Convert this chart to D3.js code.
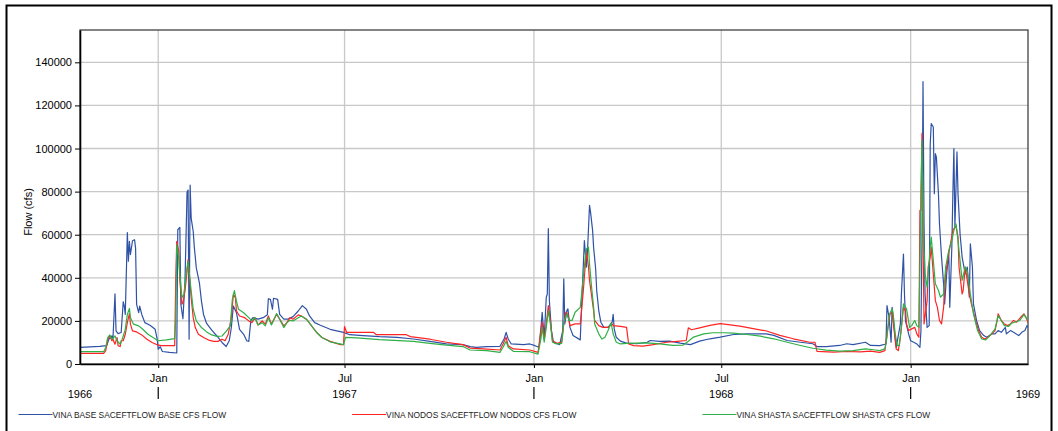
<!DOCTYPE html>
<html>
<head>
<meta charset="utf-8">
<script src="https://cdn.jsdelivr.net/npm/d3@7"></script>
<style>
  body { margin: 0; background: #fff; }
  svg { font-family: "Liberation Sans", Arial, sans-serif; }
</style>
</head>
<body>
<div id="chart"></div>
<script>
// series names and colours, in drawing order
const seriesNames = [
  "VINA BASE SACEFTFLOW BASE CFS FLOW",
  "VINA NODOS SACEFTFLOW NODOS CFS FLOW",
  "VINA SHASTA SACEFTFLOW SHASTA CFS FLOW"
]
const seriesColors = ["#2f52a6", "#ff2424", "#2fb047"]

const yTicks = [0, 20000, 40000, 60000, 80000, 100000, 120000, 140000]
const yearLabels = [1966, 1967, 1968, 1969]
const dateRange = ["1966-10-17", "1969-04-25"]

// flow values (cfs)
const baseFlow = [
  ["1966-10-17",7700],["1966-11-05",8150],["1966-11-12",8500],["1966-11-14",11500],["1966-11-17",13000],
  ["1966-11-18",11500],["1966-11-20",32600],["1966-11-21",15400],["1966-11-23",14100],["1966-11-26",14600],
  ["1966-11-28",28900],["1966-11-29",26900],["1966-11-30",23000],["1966-12-02",61000],["1966-12-03",47700],
  ["1966-12-04",56900],["1966-12-05",50800],["1966-12-07",57200],["1966-12-09",57700],["1966-12-10",53800],
  ["1966-12-11",27700],["1966-12-13",23800],["1966-12-14",26900],["1966-12-16",23000],["1966-12-19",19200],
  ["1966-12-24",18000],["1966-12-29",16100],["1966-12-31",11500],["1967-01-01",6900],["1967-01-03",8000],
  ["1967-01-05",5800],["1967-01-12",5400],["1967-01-19",5100],["1967-01-20",62300],["1967-01-22",63400],
  ["1967-01-23",27700],["1967-01-25",21000],["1967-01-27",38500],["1967-01-29",79700],["1967-01-30",80700],
  ["1967-01-31",11500],["1967-02-01",83000],["1967-02-02",67700],["1967-02-04",61500],["1967-02-05",54600],
  ["1967-02-07",44600],["1967-02-10",37700],["1967-02-12",29200],["1967-02-14",23000],["1967-02-17",18800],
  ["1967-02-22",15700],["1967-02-27",13000],["1967-03-04",10000],["1967-03-08",8100],["1967-03-11",10800],
  ["1967-03-13",16900],["1967-03-15",26900],["1967-03-18",23800],["1967-03-21",16100],["1967-03-25",13800],
  ["1967-03-28",10800],["1967-03-30",10500],["1967-04-01",20300],["1967-04-03",21500],["1967-04-08",20800],
  ["1967-04-13",21500],["1967-04-17",22800],["1967-04-18",30300],["1967-04-20",30000],["1967-04-22",25400],
  ["1967-04-23",30500],["1967-04-27",30000],["1967-04-29",23000],["1967-05-03",20800],["1967-05-07",20800],
  ["1967-05-12",22000],["1967-05-17",24600],["1967-05-21",27100],["1967-05-25",25400],["1967-05-28",22300],
  ["1967-06-02",19200],["1967-06-07",18100],["1967-06-17",16100],["1967-06-30",14700],["1967-07-06",13600],
  ["1967-07-19",13200],["1967-08-04",12700],["1967-08-21",12400],["1967-09-06",11600],["1967-09-22",10500],
  ["1967-10-08",9300],["1967-10-24",9000],["1967-10-31",8100],["1967-11-06",7750],["1967-11-16",8100],
  ["1967-11-29",8200],["1967-12-03",11600],["1967-12-05",14700],["1967-12-07",11600],["1967-12-10",9300],
  ["1967-12-22",9000],["1967-12-28",9300],["1968-01-02",8500],["1968-01-06",7750],["1968-01-08",17800],
  ["1968-01-09",24000],["1968-01-11",12400],["1968-01-13",31000],["1968-01-14",32500],["1968-01-15",62800],
  ["1968-01-16",29500],["1968-01-18",15500],["1968-01-20",10100],["1968-01-26",9000],["1968-01-29",15500],
  ["1968-01-30",39500],["1968-01-31",18600],["1968-02-02",24800],["1968-02-03",25600],["1968-02-05",17000],
  ["1968-02-08",13200],["1968-02-15",11200],["1968-02-16",23300],["1968-02-19",57300],["1968-02-21",45000],
  ["1968-02-22",52000],["1968-02-24",73600],["1968-02-25",70500],["1968-02-27",62000],["1968-02-28",54000],
  ["1968-03-01",44000],["1968-03-02",34000],["1968-03-04",24800],["1968-03-06",19400],["1968-03-09",17000],
  ["1968-03-13",17000],["1968-03-17",19400],["1968-03-18",23000],["1968-03-19",16300],["1968-03-21",12400],
  ["1968-03-25",10600],["1968-03-31",9700],["1968-04-10",9400],["1968-04-20",10100],["1968-04-23",10900],
  ["1968-05-02",10500],["1968-05-12",10600],["1968-05-22",9700],["1968-06-01",9000],["1968-06-10",10600],
  ["1968-06-20",11700],["1968-06-30",12500],["1968-07-13",13700],["1968-07-26",14000],["1968-08-08",14000],
  ["1968-08-14",14000],["1968-08-21",13300],["1968-09-03",10900],["1968-09-16",10100],["1968-09-28",9400],
  ["1968-10-02",8100],["1968-10-11",8100],["1968-10-24",8600],["1968-10-31",9400],["1968-11-06",9000],
  ["1968-11-18",10100],["1968-11-23",8600],["1968-12-02",8500],["1968-12-08",9300],["1968-12-09",27100],
  ["1968-12-11",21700],["1968-12-13",10100],["1968-12-14",26300],["1968-12-15",21700],["1968-12-17",11600],
  ["1968-12-18",7750],["1968-12-22",18600],["1968-12-23",32500],["1968-12-25",51000],["1968-12-26",32500],
  ["1968-12-27",20000],["1968-12-30",14000],["1969-01-01",10800],["1969-01-04",10100],["1969-01-07",9300],
  ["1969-01-10",7750],["1969-01-11",15500],["1969-01-12",57000],["1969-01-13",131000],["1969-01-14",65000],
  ["1969-01-15",32500],["1969-01-17",17000],["1969-01-19",17800],["1969-01-20",102000],["1969-01-21",111600],
  ["1969-01-23",110000],["1969-01-24",79000],["1969-01-25",97600],["1969-01-26",96000],["1969-01-28",79000],
  ["1969-01-29",65000],["1969-01-31",49600],["1969-02-02",37200],["1969-02-03",27900],["1969-02-05",41800],
  ["1969-02-07",51900],["1969-02-08",26300],["1969-02-10",54200],["1969-02-11",79000],["1969-02-12",100000],
  ["1969-02-13",63500],["1969-02-15",98400],["1969-02-16",79000],["1969-02-18",60400],["1969-02-20",49600],
  ["1969-02-23",41800],["1969-02-25",45000],["1969-02-27",31000],["1969-02-28",55800],["1969-03-02",45000],
  ["1969-03-03",27900],["1969-03-06",20200],["1969-03-09",15500],["1969-03-13",13200],["1969-03-16",12400],
  ["1969-03-21",14000],["1969-03-24",14000],["1969-03-27",15500],["1969-03-30",14700],["1969-04-03",17000],
  ["1969-04-04",14000],["1969-04-08",15500],["1969-04-11",14700],["1969-04-16",13200],["1969-04-19",14700],
  ["1969-04-22",15500],["1969-04-24",17800],["1969-04-25",17000]
]

const nodosFlow = [
  ["1966-10-17",4900],["1966-11-09",4900],["1966-11-11",6200],["1966-11-13",11500],["1966-11-15",13000],
  ["1966-11-17",10800],["1966-11-18",11500],["1966-11-20",9200],["1966-11-22",12300],["1966-11-23",8500],
  ["1966-11-25",8100],["1966-11-26",10800],["1966-11-28",10800],["1966-11-30",13800],["1966-12-02",19200],
  ["1966-12-04",23400],["1966-12-05",18500],["1966-12-07",15400],["1966-12-11",14900],["1966-12-16",13500],
  ["1966-12-21",11500],["1966-12-26",10000],["1966-12-31",8900],["1967-01-04",8500],["1967-01-17",8500],
  ["1967-01-18",39200],["1967-01-19",56900],["1967-01-21",52000],["1967-01-22",38500],["1967-01-24",27700],
  ["1967-01-25",28500],["1967-01-27",33800],["1967-01-29",43000],["1967-01-30",48400],["1967-01-31",43000],
  ["1967-02-02",30800],["1967-02-04",21500],["1967-02-06",16900],["1967-02-09",13800],["1967-02-14",12300],
  ["1967-02-19",11100],["1967-02-24",10500],["1967-02-28",10500],["1967-03-04",11500],["1967-03-07",10800],
  ["1967-03-10",13800],["1967-03-13",21500],["1967-03-15",32300],["1967-03-17",30800],["1967-03-18",24600],
  ["1967-03-21",22300],["1967-03-26",21500],["1967-03-30",20000],["1967-04-02",19200],["1967-04-05",21500],
  ["1967-04-08",18100],["1967-04-12",20000],["1967-04-15",18500],["1967-04-18",22300],["1967-04-21",18500],
  ["1967-04-26",23000],["1967-04-29",20800],["1967-05-03",17700],["1967-05-06",19200],["1967-05-09",21500],
  ["1967-05-12",20800],["1967-05-17",22800],["1967-05-20",22300],["1967-05-25",20800],["1967-05-30",17700],
  ["1967-06-04",14600],["1967-06-09",12300],["1967-06-17",10500],["1967-06-27",9000],["1967-06-30",9000],
  ["1967-07-01",17400],["1967-07-03",14700],["1967-07-29",14700],["1967-08-01",13600],["1967-08-30",13600],
  ["1967-09-03",12700],["1967-09-22",11500],["1967-10-08",10100],["1967-10-24",9000],["1967-10-31",7400],
  ["1967-11-13",7000],["1967-11-29",6500],["1967-12-02",9300],["1967-12-05",12400],["1967-12-07",8500],
  ["1967-12-12",7000],["1967-12-28",6500],["1968-01-05",5400],["1968-01-08",16300],["1968-01-09",19400],
  ["1968-01-11",11600],["1968-01-13",18600],["1968-01-15",27100],["1968-01-17",20200],["1968-01-19",10900],
  ["1968-01-23",9600],["1968-01-28",10100],["1968-01-30",18600],["1968-02-01",24000],["1968-02-03",23000],
  ["1968-02-05",17800],["1968-02-10",18600],["1968-02-15",18600],["1968-02-16",23300],["1968-02-18",34100],
  ["1968-02-20",46500],["1968-02-21",52700],["1968-02-23",45000],["1968-02-24",38800],["1968-02-26",31800],
  ["1968-02-28",24800],["1968-02-29",20200],["1968-03-04",17800],["1968-03-08",17000],["1968-03-13",17000],
  ["1968-03-17",18600],["1968-03-18",17800],["1968-03-25",17500],["1968-03-31",17000],["1968-04-02",9300],
  ["1968-04-07",8500],["1968-04-16",8300],["1968-04-26",9000],["1968-05-09",10100],["1968-05-19",10500],
  ["1968-05-28",10900],["1968-05-30",16800],["1968-06-02",15900],["1968-06-10",16800],["1968-06-20",17900],
  ["1968-06-30",18700],["1968-07-06",18400],["1968-07-19",17600],["1968-08-01",16400],["1968-08-14",15300],
  ["1968-08-27",13300],["1968-09-09",11700],["1968-09-25",10100],["1968-09-30",10100],["1968-10-02",5900],
  ["1968-10-18",5500],["1968-10-31",5800],["1968-11-13",5600],["1968-11-23",6000],["1968-12-02",5400],
  ["1968-12-07",6200],["1968-12-09",14000],["1968-12-12",23300],["1968-12-14",24000],["1968-12-16",15500],
  ["1968-12-18",7000],["1968-12-20",6200],["1968-12-22",12400],["1968-12-25",26300],["1968-12-27",24800],
  ["1968-12-28",18600],["1968-12-30",15500],["1969-01-02",16300],["1969-01-05",17000],["1969-01-07",14000],
  ["1969-01-09",12400],["1969-01-10",71300],["1969-01-11",71300],["1969-01-12",107000],["1969-01-13",60000],
  ["1969-01-14",18600],["1969-01-17",29400],["1969-01-18",45000],["1969-01-20",49600],["1969-01-21",54200],
  ["1969-01-23",41800],["1969-01-25",29400],["1969-01-27",26300],["1969-01-29",20200],["1969-01-31",18600],
  ["1969-02-02",26300],["1969-02-04",41800],["1969-02-07",51200],["1969-02-09",56600],["1969-02-11",62000],
  ["1969-02-14",64300],["1969-02-16",58900],["1969-02-17",45000],["1969-02-20",32500],["1969-02-21",34100],
  ["1969-02-23",45000],["1969-02-25",38800],["1969-02-27",32500],["1969-03-01",27900],["1969-03-05",20200],
  ["1969-03-08",15500],["1969-03-11",12400],["1969-03-14",11600],["1969-03-17",12400],["1969-03-21",14000],
  ["1969-03-24",15500],["1969-03-26",20200],["1969-03-27",23300],["1969-03-30",20200],["1969-04-02",18600],
  ["1969-04-05",17800],["1969-04-08",18600],["1969-04-11",20200],["1969-04-14",19400],["1969-04-18",21700],
  ["1969-04-21",23300],["1969-04-23",21700],["1969-04-25",19400]
]

const shastaFlow = [
  ["1966-10-17",5700],["1966-11-09",5700],["1966-11-11",7700],["1966-11-13",12300],["1966-11-15",13500],
  ["1966-11-17",11500],["1966-11-20",13000],["1966-11-22",10800],["1966-11-25",9200],["1966-11-27",11500],
  ["1966-11-30",16100],["1966-12-02",23000],["1966-12-04",25800],["1966-12-05",21500],["1966-12-08",18500],
  ["1966-12-13",17700],["1966-12-17",16100],["1966-12-22",13800],["1966-12-27",12300],["1967-01-01",10800],
  ["1967-01-09",11200],["1967-01-17",11800],["1967-01-18",20000],["1967-01-19",55400],["1967-01-21",49200],
  ["1967-01-22",41500],["1967-01-24",30800],["1967-01-26",32300],["1967-01-28",41500],["1967-01-30",47700],
  ["1967-01-31",43000],["1967-02-02",33800],["1967-02-04",25400],["1967-02-07",20000],["1967-02-12",16900],
  ["1967-02-17",14900],["1967-02-22",13500],["1967-02-27",12800],["1967-03-04",13000],["1967-03-08",15100],
  ["1967-03-12",17700],["1967-03-14",30000],["1967-03-16",34100],["1967-03-18",29200],["1967-03-20",25400],
  ["1967-03-25",23800],["1967-03-30",21500],["1967-04-02",20000],["1967-04-05",21500],["1967-04-08",18100],
  ["1967-04-12",19200],["1967-04-15",17700],["1967-04-18",21500],["1967-04-21",18100],["1967-04-26",23400],
  ["1967-04-29",20800],["1967-05-03",16900],["1967-05-06",19200],["1967-05-09",20300],["1967-05-12",20000],
  ["1967-05-17",21500],["1967-05-20",22300],["1967-05-25",20800],["1967-05-30",17700],["1967-06-04",14600],
  ["1967-06-09",12300],["1967-06-17",10300],["1967-06-30",9000],["1967-07-02",12400],["1967-07-13",12100],
  ["1967-08-04",11300],["1967-09-06",10500],["1967-09-22",9600],["1967-10-08",8800],["1967-10-24",8100],
  ["1967-10-31",6500],["1967-11-16",6200],["1967-11-29",5400],["1967-12-02",7750],["1967-12-05",10500],
  ["1967-12-07",7750],["1967-12-12",5900],["1967-12-28",5700],["1968-01-05",4600],["1968-01-08",12400],
  ["1968-01-09",17000],["1968-01-11",10100],["1968-01-13",17000],["1968-01-15",24800],["1968-01-17",18600],
  ["1968-01-19",10100],["1968-01-23",9300],["1968-01-28",9600],["1968-01-30",19400],["1968-02-02",23300],
  ["1968-02-04",20200],["1968-02-07",20200],["1968-02-10",24000],["1968-02-15",26300],["1968-02-16",31000],
  ["1968-02-18",40300],["1968-02-20",49600],["1968-02-21",53500],["1968-02-23",54200],["1968-02-24",46500],
  ["1968-02-26",35700],["1968-02-28",26300],["1968-02-29",18600],["1968-03-04",14000],["1968-03-07",11600],
  ["1968-03-10",12400],["1968-03-13",15500],["1968-03-16",19000],["1968-03-18",14000],["1968-03-21",10100],
  ["1968-03-25",9300],["1968-03-31",9600],["1968-04-10",9700],["1968-04-20",9800],["1968-05-02",9300],
  ["1968-05-15",8600],["1968-05-25",8800],["1968-05-30",10600],["1968-06-04",12500],["1968-06-14",14000],
  ["1968-06-23",14500],["1968-07-03",14500],["1968-07-13",14300],["1968-07-26",13700],["1968-08-08",12900],
  ["1968-08-21",11700],["1968-09-03",10100],["1968-09-16",8600],["1968-09-28",7300],["1968-10-11",6400],
  ["1968-10-24",6000],["1968-11-06",6200],["1968-11-18",7000],["1968-11-26",6600],["1968-12-02",6200],
  ["1968-12-07",7000],["1968-12-09",12400],["1968-12-11",22500],["1968-12-14",25600],["1968-12-15",23300],
  ["1968-12-17",14000],["1968-12-19",8500],["1968-12-21",8500],["1968-12-23",17000],["1968-12-25",27900],
  ["1968-12-28",25600],["1968-12-31",17000],["1969-01-02",17800],["1969-01-05",20200],["1969-01-07",17800],
  ["1969-01-09",17000],["1969-01-10",45000],["1969-01-11",80600],["1969-01-12",104000],["1969-01-13",63500],
  ["1969-01-15",41800],["1969-01-17",35700],["1969-01-20",54200],["1969-01-21",58900],["1969-01-23",48000],
  ["1969-01-25",37200],["1969-01-28",34100],["1969-01-30",31000],["1969-02-02",32500],["1969-02-04",45000],
  ["1969-02-07",52700],["1969-02-10",57300],["1969-02-12",62000],["1969-02-14",65100],["1969-02-16",57300],
  ["1969-02-18",48000],["1969-02-20",38800],["1969-02-23",45000],["1969-02-25",43400],["1969-02-28",32500],
  ["1969-03-03",23300],["1969-03-07",15500],["1969-03-11",11600],["1969-03-15",11200],["1969-03-19",13200],
  ["1969-03-24",16300],["1969-03-27",22500],["1969-03-30",20200],["1969-04-02",17800],["1969-04-06",17400],
  ["1969-04-09",18900],["1969-04-12",19400],["1969-04-17",20200],["1969-04-21",22900],["1969-04-24",20900],
  ["1969-04-25",20200]
]

const width = 1058
const height = 431
const plot = { left: 80, right: 1028, top: 30, bottom: 364 }

const parse = d3.timeParse("%Y-%m-%d")
const series = [baseFlow, nodosFlow, shastaFlow].map(s => s.map(d => ({ date: parse(d[0]), flow: d[1] })))

const x = d3.scaleTime()
  .domain(dateRange.map(parse))
  .range([plot.left, plot.right])
const y = d3.scaleLinear()
  .domain([0, 155000])
  .range([plot.bottom, plot.top])

const svg = d3.select("#chart")
  .append("svg")
  .attr("width", width)
  .attr("height", height)

// outer frame
svg.append("rect")
  .attr("x", 6.5).attr("y", 5.5)
  .attr("width", 1045).attr("height", 440)
  .attr("fill", "none")
  .attr("stroke", "#000")
  .attr("stroke-width", 2)

// grid
const halfYears = x.ticks(d3.timeMonth.every(6))
svg.append("g").selectAll("line")
  .data(yTicks.filter(d => d > 0))
  .enter().append("line")
  .attr("x1", plot.left).attr("x2", plot.right)
  .attr("y1", d => y(d)).attr("y2", d => y(d))
  .style("stroke", "#c8c8c8")
  .style("stroke-width", 1.3)
svg.append("g").selectAll("line")
  .data(halfYears)
  .enter().append("line")
  .attr("x1", d => x(d)).attr("x2", d => x(d))
  .attr("y1", plot.top).attr("y2", plot.bottom)
  .style("stroke", "#c8c8c8")
  .style("stroke-width", 1.3)

// plot frame
svg.append("rect")
  .attr("x", plot.left).attr("y", plot.top)
  .attr("width", plot.right - plot.left)
  .attr("height", plot.bottom - plot.top)
  .attr("fill", "none")
  .attr("stroke", "#333")
  .attr("stroke-width", 1.2)

// lines
svg.append("clipPath").attr("id", "clip")
  .append("rect")
  .attr("x", plot.left).attr("y", plot.top)
  .attr("width", plot.right - plot.left)
  .attr("height", plot.bottom - plot.top)

const line = d3.line()
  .x(d => x(d.date))
  .y(d => y(d.flow))

svg.append("g").attr("clip-path", "url(#clip)")
  .selectAll("path")
  .data(series)
  .enter().append("path")
  .attr("d", line)
  .attr("fill", "none")
  .attr("stroke", (d, i) => seriesColors[i])
  .attr("stroke-width", 1.2)
  .attr("stroke-linejoin", "round")

// y axis
const yAxis = svg.append("g")
  .attr("transform", `translate(${plot.left},0)`)
  .call(d3.axisLeft(y).tickValues(yTicks).tickFormat(d3.format("d")).tickSize(5).tickSizeOuter(0).tickPadding(3))
yAxis.selectAll("text").style("font-size", "11px").style("fill", "#000")
yAxis.select(".domain").attr("stroke-width", 1.6)

// x axis
const xAxis = svg.append("g")
  .attr("transform", `translate(0,${plot.bottom})`)
  .call(d3.axisBottom(x).tickValues(halfYears).tickFormat(d3.timeFormat("%b")).tickSize(4).tickSizeOuter(0).tickPadding(6))
xAxis.selectAll("text").style("font-size", "11px").style("fill", "#000")
xAxis.select(".domain").attr("stroke-width", 1.6)

// year row
svg.append("g").selectAll("line")
  .data(yearLabels.slice(1).map(yr => new Date(yr, 0, 1)))
  .enter().append("line")
  .attr("x1", d => x(d)).attr("x2", d => x(d))
  .attr("y1", 387).attr("y2", 399)
  .style("stroke", "#000")
  .style("stroke-width", 1.2)

svg.append("g").selectAll("text")
  .data(yearLabels)
  .enter().append("text")
  .attr("x", yr => Math.max(plot.left, Math.min(plot.right, x(new Date(yr, 6, 1)))))
  .attr("y", 397.5)
  .attr("text-anchor", "middle")
  .style("font-size", "11px")
  .text(yr => yr)

// y label
svg.append("text")
  .attr("transform", "translate(32,212) rotate(-90)")
  .attr("text-anchor", "middle")
  .style("font-size", "11px")
  .text("Flow (cfs)")

// legend
let lx = 18.5
seriesNames.forEach((name, i) => {
  svg.append("line")
    .attr("x1", lx).attr("x2", lx + 34)
    .attr("y1", 414.5).attr("y2", 414.5)
    .style("stroke", seriesColors[i])
    .style("stroke-width", 1.2)
  const t = svg.append("text")
    .attr("x", lx + 34)
    .attr("y", 417.5)
    .style("font-size", "8.4px")
    .style("fill", "#222")
    .text(name)
  lx += 34 + t.node().getComputedTextLength() + 126
})
</script>
</body>
</html>
